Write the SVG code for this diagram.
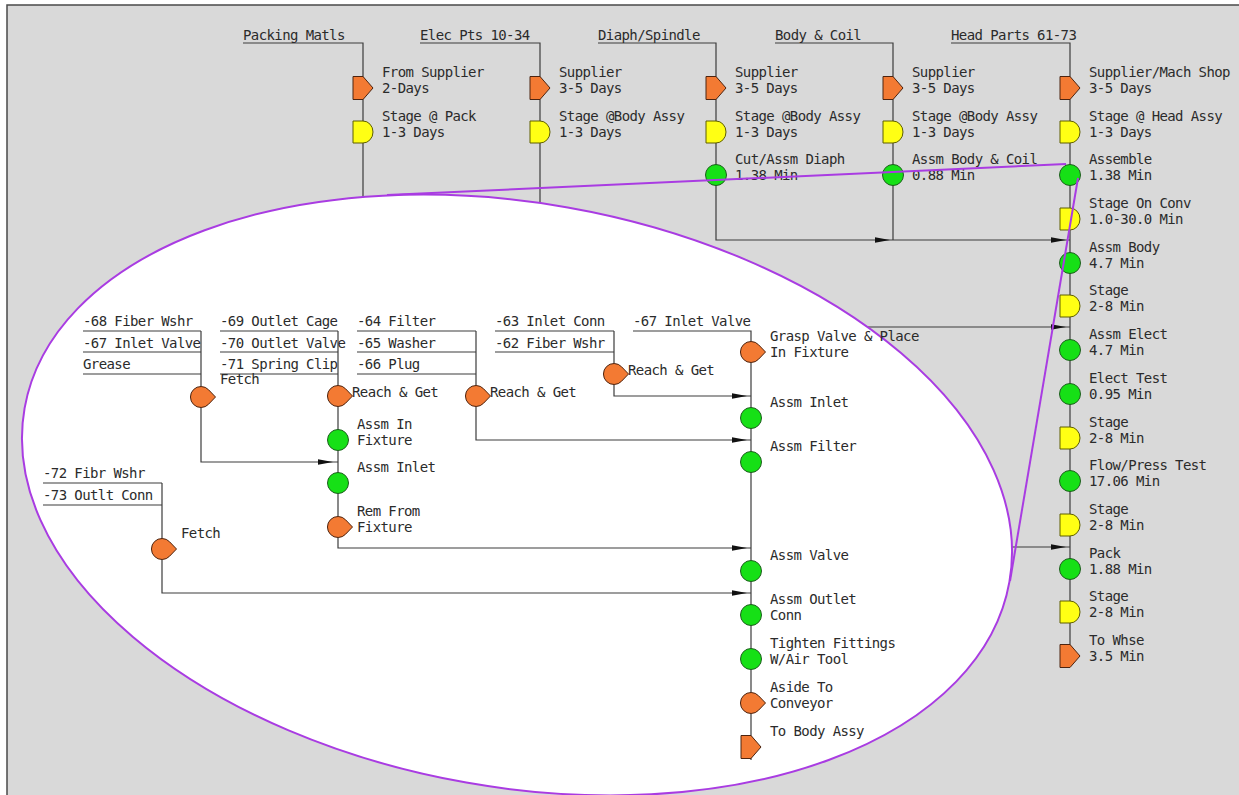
<svg xmlns="http://www.w3.org/2000/svg" width="1239" height="795" viewBox="0 0 1239 795">
<style>
  text{font-family:"DejaVu Sans Mono","Liberation Mono",monospace;font-size:14px;letter-spacing:-0.6px;fill:#2b2b2b}
  .ln{fill:none;stroke:#3c3c3c;stroke-width:1.2}
  .cl{fill:none;stroke:#a93ce2;stroke-width:2}
  .or{fill:#f37a33;stroke:#4d2410;stroke-width:1}
  .ye{fill:#ffff14;stroke:#5e5e00;stroke-width:1}
  .gr{fill:#16e016;stroke:#1d5e1d;stroke-width:1}
  .ah{fill:#111}
</style>
<defs>
  <!-- transport (arrow pentagon) -->
  <path id="tr" d="M-10,-11.5H0L10,0L0,11.5H-10Z"/>
  <!-- delay / storage (D shape) -->
  <path id="dl" d="M-10,-11H0A10,11 0 0 1 0,11H-10Z"/>
  <!-- operation -->
  <circle id="op" r="10.5"/>
  <!-- handling (circle with point) -->
  <path id="hd" d="M14.5,0L7.6,-7.2A10.5,10.5 0 1 0 7.6,7.2Z"/>
  <!-- arrowhead, tip at origin -->
  <path id="ah" d="M0,0L-15,-2.8L-15,2.8Z"/>
</defs>

<!-- sheet -->
<rect width="1239" height="795" fill="#ffffff"/>
<rect x="7" y="5" width="1240" height="800" fill="#d9d9d9" stroke="#4a4a4a" stroke-width="1.5"/>

<!-- supply lines feeding the main line -->
<g id="connectors-main">
  <path class="ln" d="M243,43H363V300"/>
  <path class="ln" d="M420,43H540V300"/>
  <path class="ln" d="M598,43H716V240H1070"/>
  <path class="ln" d="M775,43H893V240"/>
  <path class="ln" d="M951,43H1070V656"/>
  <path class="ln" d="M700,327H1070"/>
  <path class="ln" d="M960,547H1070"/>
  <use href="#ah" class="ah" x="890" y="240"/>
  <use href="#ah" class="ah" x="1066" y="240"/>
  <use href="#ah" class="ah" x="1066" y="327"/>
  <use href="#ah" class="ah" x="1066" y="547"/>
</g>

<!-- detail bubble -->
<ellipse id="detail-bubble" cx="517" cy="495" rx="500" ry="292" transform="rotate(10 517 495)" fill="#ffffff" stroke="#a93ce2" stroke-width="2"/>

<!-- sub-assembly connectors inside the bubble -->
<g id="connectors-detail">
  <path class="ln" d="M83,331H201M83,352H201M83,374H201M201,331V462H338"/>
  <path class="ln" d="M220,331H338M220,352H338M220,374H338M338,331V548H751"/>
  <path class="ln" d="M357,331H476M357,352H476M357,374H476M476,331V440H751"/>
  <path class="ln" d="M495,331H614M495,352H614M614,331V396H751"/>
  <path class="ln" d="M43,483H162M43,505H162M162,483V593H751"/>
  <path class="ln" d="M633,331H751V760"/>
  <use href="#ah" class="ah" x="333" y="462"/>
  <use href="#ah" class="ah" x="747" y="396"/>
  <use href="#ah" class="ah" x="747" y="440"/>
  <use href="#ah" class="ah" x="747" y="548"/>
  <use href="#ah" class="ah" x="747" y="593"/>
</g>

<!-- part headers -->
<g id="headers">
  <text x="243" y="40">Packing Matls</text>
  <text x="420" y="40">Elec Pts 10-34</text>
  <text x="598" y="40">Diaph/Spindle</text>
  <text x="775" y="40">Body &amp; Coil</text>
  <text x="951" y="40">Head Parts 61-73</text>
</g>

<!-- packing column -->
<g id="pk-supplier"><use href="#tr" class="or" x="363" y="88"/><text x="382" y="77">From Supplier</text><text x="382" y="93">2-Days</text></g>
<g id="pk-stage"><use href="#dl" class="ye" x="363" y="132"/><text x="382" y="121">Stage @ Pack</text><text x="382" y="137">1-3 Days</text></g>

<!-- electrical parts column -->
<g id="el-supplier"><use href="#tr" class="or" x="540" y="88"/><text x="559" y="77">Supplier</text><text x="559" y="93">3-5 Days</text></g>
<g id="el-stage"><use href="#dl" class="ye" x="540" y="132"/><text x="559" y="121">Stage @Body Assy</text><text x="559" y="137">1-3 Days</text></g>

<!-- diaphragm / spindle column -->
<g id="di-supplier"><use href="#tr" class="or" x="716" y="88"/><text x="735" y="77">Supplier</text><text x="735" y="93">3-5 Days</text></g>
<g id="di-stage"><use href="#dl" class="ye" x="716" y="132"/><text x="735" y="121">Stage @Body Assy</text><text x="735" y="137">1-3 Days</text></g>
<g id="di-assm"><use href="#op" class="gr" x="716" y="175"/><text x="735" y="164">Cut/Assm Diaph</text><text x="735" y="180">1.38 Min</text></g>

<!-- body & coil column -->
<g id="bc-supplier"><use href="#tr" class="or" x="893" y="88"/><text x="912" y="77">Supplier</text><text x="912" y="93">3-5 Days</text></g>
<g id="bc-stage"><use href="#dl" class="ye" x="893" y="132"/><text x="912" y="121">Stage @Body Assy</text><text x="912" y="137">1-3 Days</text></g>
<g id="bc-assm"><use href="#op" class="gr" x="893" y="175"/><text x="912" y="164">Assm Body &amp; Coil</text><text x="912" y="180">0.88 Min</text></g>

<!-- head parts / main line -->
<g id="hd-supplier"><use href="#tr" class="or" x="1070" y="88"/><text x="1089" y="77">Supplier/Mach Shop</text><text x="1089" y="93">3-5 Days</text></g>
<g id="hd-stage"><use href="#dl" class="ye" x="1070" y="132"/><text x="1089" y="121">Stage @ Head Assy</text><text x="1089" y="137">1-3 Days</text></g>
<g id="hd-assemble"><use href="#op" class="gr" x="1070" y="175"/><text x="1089" y="164">Assemble</text><text x="1089" y="180">1.38 Min</text></g>
<g id="ml-stage-conv"><use href="#dl" class="ye" x="1070" y="219"/><text x="1089" y="208">Stage On Conv</text><text x="1089" y="224">1.0-30.0 Min</text></g>
<g id="ml-assm-body"><use href="#op" class="gr" x="1070" y="263"/><text x="1089" y="252">Assm Body</text><text x="1089" y="268">4.7 Min</text></g>
<g id="ml-stage-1"><use href="#dl" class="ye" x="1070" y="306"/><text x="1089" y="295">Stage</text><text x="1089" y="311">2-8 Min</text></g>
<g id="ml-assm-elect"><use href="#op" class="gr" x="1070" y="350"/><text x="1089" y="339">Assm Elect</text><text x="1089" y="355">4.7 Min</text></g>
<g id="ml-elect-test"><use href="#op" class="gr" x="1070" y="394"/><text x="1089" y="383">Elect Test</text><text x="1089" y="399">0.95 Min</text></g>
<g id="ml-stage-2"><use href="#dl" class="ye" x="1070" y="438"/><text x="1089" y="427">Stage</text><text x="1089" y="443">2-8 Min</text></g>
<g id="ml-flow-test"><use href="#op" class="gr" x="1070" y="481"/><text x="1089" y="470">Flow/Press Test</text><text x="1089" y="486">17.06 Min</text></g>
<g id="ml-stage-3"><use href="#dl" class="ye" x="1070" y="525"/><text x="1089" y="514">Stage</text><text x="1089" y="530">2-8 Min</text></g>
<g id="ml-pack"><use href="#op" class="gr" x="1070" y="569"/><text x="1089" y="558">Pack</text><text x="1089" y="574">1.88 Min</text></g>
<g id="ml-stage-4"><use href="#dl" class="ye" x="1070" y="612"/><text x="1089" y="601">Stage</text><text x="1089" y="617">2-8 Min</text></g>
<g id="ml-to-whse"><use href="#tr" class="or" x="1070" y="656"/><text x="1089" y="645">To Whse</text><text x="1089" y="661">3.5 Min</text></g>

<!-- head assembly detail: part lists -->
<g id="parts-a"><text x="83" y="326">-68 Fiber Wshr</text><text x="83" y="348">-67 Inlet Valve</text><text x="83" y="369">Grease</text></g>
<g id="parts-b"><text x="220" y="326">-69 Outlet Cage</text><text x="220" y="348">-70 Outlet Valve</text><text x="220" y="369">-71 Spring Clip</text></g>
<g id="parts-c"><text x="357" y="326">-64 Filter</text><text x="357" y="348">-65 Washer</text><text x="357" y="369">-66 Plug</text></g>
<g id="parts-d"><text x="495" y="326">-63 Inlet Conn</text><text x="495" y="348">-62 Fiber Wshr</text></g>
<g id="parts-e"><text x="43" y="478">-72 Fibr Wshr</text><text x="43" y="500">-73 Outlt Conn</text></g>
<g id="parts-main"><text x="633" y="326">-67 Inlet Valve</text></g>

<!-- head assembly detail: handling / operations -->
<g id="a-fetch"><use href="#hd" class="or" x="201" y="397"/><text x="220" y="384">Fetch</text></g>
<g id="b-reach"><use href="#hd" class="or" x="338" y="396"/><text x="352" y="397">Reach &amp; Get</text></g>
<g id="b-assm-fixture"><use href="#op" class="gr" x="338" y="440"/><text x="357" y="429">Assm In</text><text x="357" y="445">Fixture</text></g>
<g id="b-assm-inlet"><use href="#op" class="gr" x="338" y="483"/><text x="357" y="472">Assm Inlet</text></g>
<g id="b-rem-fixture"><use href="#hd" class="or" x="338" y="527"/><text x="357" y="516">Rem From</text><text x="357" y="532">Fixture</text></g>
<g id="c-reach"><use href="#hd" class="or" x="476" y="396"/><text x="490" y="397">Reach &amp; Get</text></g>
<g id="d-reach"><use href="#hd" class="or" x="614" y="374"/><text x="628" y="375">Reach &amp; Get</text></g>
<g id="e-fetch"><use href="#hd" class="or" x="162" y="549"/><text x="181" y="538">Fetch</text></g>

<g id="m-grasp"><use href="#hd" class="or" x="751" y="352"/><text x="770" y="341">Grasp Valve &amp; Place</text><text x="770" y="357">In Fixture</text></g>
<g id="m-assm-inlet"><use href="#op" class="gr" x="751" y="418"/><text x="770" y="407">Assm Inlet</text></g>
<g id="m-assm-filter"><use href="#op" class="gr" x="751" y="462"/><text x="770" y="451">Assm Filter</text></g>
<g id="m-assm-valve"><use href="#op" class="gr" x="751" y="571"/><text x="770" y="560">Assm Valve</text></g>
<g id="m-assm-outlet"><use href="#op" class="gr" x="751" y="615"/><text x="770" y="604">Assm Outlet</text><text x="770" y="620">Conn</text></g>
<g id="m-tighten"><use href="#op" class="gr" x="751" y="659"/><text x="770" y="648">Tighten Fittings</text><text x="770" y="664">W/Air Tool</text></g>
<g id="m-aside"><use href="#hd" class="or" x="751" y="703"/><text x="770" y="692">Aside To</text><text x="770" y="708">Conveyor</text></g>
<g id="m-to-body"><use href="#tr" class="or" x="751" y="747"/><text x="770" y="736">To Body Assy</text></g>

<!-- callout lines from the Assemble step to the bubble -->
<g id="callout">
  <path class="cl" d="M387,195L1066,164"/>
  <path class="cl" d="M1078,178L1010,581"/>
</g>
</svg>
